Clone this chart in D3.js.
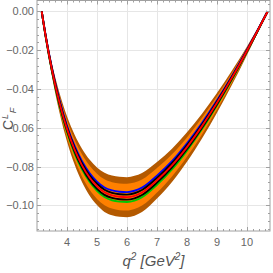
<!DOCTYPE html>
<html>
<head>
<meta charset="utf-8">
<script src="https://cdn.jsdelivr.net/npm/d3@7"></script>
<style>
  body { margin: 0; background: #fff; }
  svg { display: block; }
</style>
</head>
<body>
<script>
const WIDTH = 273, HEIGHT = 273;
const FRAME = {left: 37, right: 270, top: 0.5, bottom: 231};

// q^2 grid (GeV^2)
const q2 = [3.157, 3.3, 3.5, 3.75, 4, 4.25, 4.5, 4.75, 5, 5.25, 5.5, 5.75, 6, 6.25, 6.5, 7, 7.5, 8, 8.5, 9, 9.5, 10, 10.3, 10.69];
// central value (red)
const central = [0, -0.0138, -0.0303, -0.0472, -0.0606, -0.0712, -0.0794, -0.0857, -0.0902, -0.0933, -0.0949, -0.0956, -0.0958, -0.0951, -0.0934, -0.0871, -0.0794, -0.0700, -0.0592, -0.0472, -0.0342, -0.0203, -0.0116, 0];
// outer (brown) band
const brownHi = [0, -0.0123, -0.0270, -0.0421, -0.0541, -0.0635, -0.0708, -0.0764, -0.0805, -0.0832, -0.0847, -0.0853, -0.0855, -0.0848, -0.0833, -0.0777, -0.0708, -0.0624, -0.0528, -0.0421, -0.0305, -0.0181, -0.0103, 0];
const brownLo = [0, -0.0153, -0.0336, -0.0523, -0.0671, -0.0789, -0.0880, -0.0950, -0.0999, -0.1034, -0.1051, -0.1059, -0.1061, -0.1054, -0.1035, -0.0965, -0.0880, -0.0776, -0.0656, -0.0523, -0.0379, -0.0225, -0.0129, 0];
// inner (orange) band
const orangeHi = [0, -0.0128, -0.0281, -0.0438, -0.0562, -0.0661, -0.0737, -0.0795, -0.0837, -0.0866, -0.0881, -0.0887, -0.0889, -0.0883, -0.0867, -0.0808, -0.0737, -0.0650, -0.0549, -0.0438, -0.0317, -0.0188, -0.0108, 0];
const orangeLo = [0, -0.0148, -0.0325, -0.0506, -0.0650, -0.0763, -0.0851, -0.0919, -0.0967, -0.1000, -0.1017, -0.1025, -0.1027, -0.1019, -0.1001, -0.0934, -0.0851, -0.0750, -0.0635, -0.0506, -0.0367, -0.0218, -0.0124, 0];
// other curves
const blueCurve = [0, -0.0134, -0.0295, -0.0459, -0.0590, -0.0693, -0.0773, -0.0834, -0.0878, -0.0908, -0.0923, -0.0930, -0.0932, -0.0925, -0.0909, -0.0847, -0.0773, -0.0681, -0.0576, -0.0459, -0.0333, -0.0198, -0.0113, 0];
const blackUp = [0, -0.0136, -0.0299, -0.0465, -0.0598, -0.0702, -0.0783, -0.0845, -0.0889, -0.0920, -0.0936, -0.0943, -0.0945, -0.0938, -0.0921, -0.0859, -0.0783, -0.0690, -0.0584, -0.0465, -0.0337, -0.0200, -0.0114, 0];
const blackDn = [0, -0.0140, -0.0307, -0.0479, -0.0614, -0.0722, -0.0805, -0.0869, -0.0915, -0.0946, -0.0962, -0.0969, -0.0971, -0.0964, -0.0947, -0.0883, -0.0805, -0.0710, -0.0600, -0.0479, -0.0347, -0.0206, -0.0118, 0];
const greenCurve = [0, -0.0142, -0.0311, -0.0484, -0.0622, -0.0731, -0.0815, -0.0879, -0.0925, -0.0957, -0.0974, -0.0981, -0.0983, -0.0976, -0.0958, -0.0894, -0.0815, -0.0718, -0.0607, -0.0484, -0.0351, -0.0208, -0.0119, 0];

const xTicks = [4, 5, 6, 7, 8, 9, 10];
const yTicks = [0, -0.02, -0.04, -0.06, -0.08, -0.10];

const svg = d3.select("body").append("svg")
    .attr("width", WIDTH).attr("height", HEIGHT);

const x = d3.scaleLinear().domain([3.0, 10.767]).range([FRAME.left, FRAME.right]);
const y = d3.scaleLinear().domain([0, -0.1]).range([11.3, 205.3]);

const minorX = d3.range(3.2, 10.77, 0.2).filter(v => Math.abs(v - Math.round(v)) > 0.01);
const minorY = d3.range(0.004, -0.114, -0.004).filter(v => Math.abs(v / 0.02 - Math.round(v / 0.02)) > 0.01);

// grid
const grid = svg.append("g").attr("stroke", "#e6e6e6").attr("stroke-width", 1);
xTicks.forEach(t => grid.append("line")
    .attr("x1", Math.round(x(t)) + 0.5).attr("x2", Math.round(x(t)) + 0.5)
    .attr("y1", FRAME.top).attr("y2", FRAME.bottom));
yTicks.forEach(t => grid.append("line")
    .attr("y1", Math.round(y(t)) + 0.5).attr("y2", Math.round(y(t)) + 0.5)
    .attr("x1", FRAME.left).attr("x2", FRAME.right));

svg.append("clipPath").attr("id", "clip").append("rect")
    .attr("x", FRAME.left).attr("y", FRAME.top)
    .attr("width", FRAME.right - FRAME.left).attr("height", FRAME.bottom - FRAME.top);

const plot = svg.append("g").attr("clip-path", "url(#clip)");
const idx = d3.range(q2.length);
const curve = d3.curveMonotoneX;

function band(lo, hi, color) {
  plot.append("path").datum(idx)
      .attr("fill", color)
      .attr("d", d3.area().curve(curve)
          .x(i => x(q2[i])).y0(i => y(lo[i])).y1(i => y(hi[i])));
}
function line(vals, color, w) {
  plot.append("path").datum(idx)
      .attr("fill", "none").attr("stroke", color).attr("stroke-width", w)
      .attr("d", d3.line().curve(curve).x(i => x(q2[i])).y(i => y(vals[i])));
}
band(brownLo, brownHi, "#b35900");
band(orangeLo, orangeHi, "#ff8000");
line(greenCurve, "#00c800", 1.9);
line(blueCurve, "#0000ff", 1.9);
line(blackDn, "#000", 1.9);
line(blackUp, "#000", 1.9);
line(central, "#ff0000", 1.9);

// frame
svg.append("rect")
    .attr("x", FRAME.left).attr("y", FRAME.top)
    .attr("width", FRAME.right - FRAME.left).attr("height", FRAME.bottom - FRAME.top)
    .attr("fill", "none").attr("stroke", "#a0a0a0").attr("stroke-width", 1);

const tk = svg.append("g").attr("stroke", "#a0a0a0").attr("stroke-width", 1);
function xTick(v, len) {
  const px = Math.round(x(v)) + 0.5;
  tk.append("line").attr("x1", px).attr("x2", px).attr("y1", FRAME.bottom).attr("y2", FRAME.bottom - len);
  tk.append("line").attr("x1", px).attr("x2", px).attr("y1", FRAME.top).attr("y2", FRAME.top + len);
}
function yTick(v, len) {
  const py = Math.round(y(v)) + 0.5;
  if (py < FRAME.top || py > FRAME.bottom) return;
  tk.append("line").attr("y1", py).attr("y2", py).attr("x1", FRAME.left).attr("x2", FRAME.left + len);
  tk.append("line").attr("y1", py).attr("y2", py).attr("x1", FRAME.right).attr("x2", FRAME.right - len);
}
xTicks.forEach(t => xTick(t, 4));
minorX.forEach(t => xTick(t, 2));
yTicks.forEach(t => yTick(t, 4));
minorY.forEach(t => yTick(t, 2));

const FONT = "'Liberation Sans Narrow', 'Arial Narrow', sans-serif";
const fmt = d => (d < 0 ? "\u2212" : "") + Math.abs(d).toFixed(2);

svg.append("g").selectAll("text").data(xTicks).join("text")
    .attr("x", d => x(d)).attr("y", 246)
    .attr("text-anchor", "middle")
    .attr("font-family", FONT).attr("font-size", 11).attr("fill", "#666")
    .text(d => d);

svg.append("g").selectAll("text").data(yTicks).join("text")
    .attr("x", 34).attr("y", d => y(d) + 4)
    .attr("text-anchor", "end")
    .attr("font-family", FONT).attr("font-size", 11).attr("fill", "#666")
    .text(fmt);

// y label C^L_F
const yl = svg.append("text")
    .attr("transform", "translate(13,130) rotate(-90)")
    .attr("font-family", FONT).attr("font-size", 14).attr("fill", "#555");
yl.append("tspan").text("C");
yl.append("tspan").attr("font-size", 9).attr("font-style", "italic").attr("dy", -5).attr("dx", 1).text("L");
yl.append("tspan").attr("font-size", 9).attr("font-style", "italic").attr("dy", 8).attr("dx", 0.5).text("F");

// x label
const xl = svg.append("text")
    .attr("x", (FRAME.left + FRAME.right) / 2).attr("y", 266)
    .attr("text-anchor", "middle")
    .attr("font-family", FONT).attr("font-size", 15).attr("font-style", "italic").attr("fill", "#555");
xl.append("tspan").text("q");
xl.append("tspan").attr("font-size", 10).attr("dy", -6).text("2");
xl.append("tspan").attr("dy", 6).text(" [GeV");
xl.append("tspan").attr("font-size", 10).attr("dy", -6).text("2");
xl.append("tspan").attr("dy", 6).text("]");
</script>
</body>
</html>
